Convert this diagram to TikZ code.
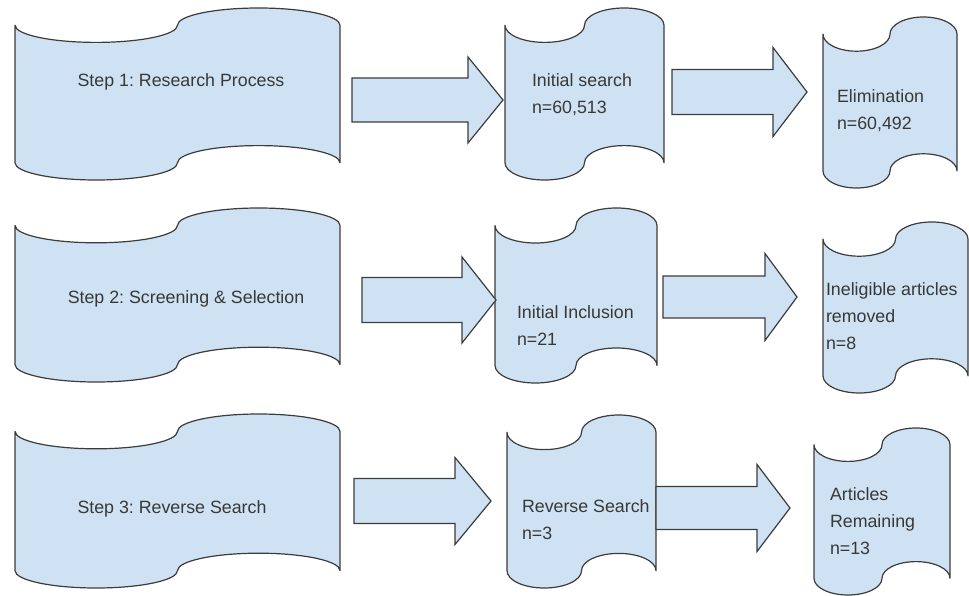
\documentclass[tikz,border=0pt]{standalone}
\usepackage{fontspec}
\setmainfont{Liberation Sans}
\frenchspacing
\definecolor{tapefill}{HTML}{CFE2F3}
\definecolor{tapeline}{HTML}{3C3C3C}
\definecolor{txtcol}{HTML}{383838}
\tikzset{
  tapebox/.style={fill=tapefill, draw=tapeline, line width=1.2pt, line join=round},
  blockarrow/.style={fill=tapefill, draw=tapeline, line width=1.2pt, line join=miter},
  lbl/.style={inner sep=0pt, outer sep=0pt, text=txtcol, font=\fontsize{17.8}{27}\selectfont},
}
% punched-tape shape: name, x1, y1, x2, y2 (y downwards)
\newcommand\tapeshape[5]{%
  \pgfmathsetmacro\tpW{#4-#2}%
  \pgfmathsetmacro\tpA{(#5-#3)/10}%
  \pgfmathsetmacro\tpR{\tpW/4}%
  \draw[tapebox] (#2,#3+\tpA)
    arc[start angle=180, end angle=0, x radius=\tpR, y radius=\tpA]
    arc[start angle=180, end angle=360, x radius=\tpR, y radius=\tpA]
    -- (#4,#5-\tpA)
    arc[start angle=0, end angle=-180, x radius=\tpR, y radius=\tpA]
    arc[start angle=0, end angle=180, x radius=\tpR, y radius=\tpA]
    -- cycle;
  \coordinate (#1) at ({(#2+#4)/2},{(#3+#5)/2});
}
% block arrow: name, x start, x head base, x tip, centre y, shaft half width, head half width
\newcommand\blockarr[7]{%
  \draw[blockarrow] (#2,#5-#6) -- (#3,#5-#6) -- (#3,#5-#7) -- (#4,#5)
    -- (#3,#5+#7) -- (#3,#5+#6) -- (#2,#5+#6) -- cycle;
  \coordinate (#1) at (#4,#5);
}
\newcommand\lines[1]{\begin{tabular}[t]{@{}l@{}}#1\end{tabular}}
\begin{document}
\begin{tikzpicture}[x=1pt, y=-1pt]
  \useasboundingbox (0,0) rectangle (969,596);
  % row 1
  \tapeshape{a1}{15}{8}{340}{180}
  \tapeshape{b1}{505}{8}{664}{180}
  \tapeshape{c1}{823}{17}{957}{188}
  % row 2
  \tapeshape{a2}{15}{208}{340}{382}
  \tapeshape{b2}{495}{208}{657}{383}
  \tapeshape{c2}{823}{222}{968}{393}
  % row 3
  \tapeshape{a3}{15}{414}{340}{588}
  \tapeshape{b3}{507}{415}{656}{588}
  \tapeshape{c3}{814}{428}{950}{595}
  % block arrows
  \blockarr{r1}{352}{468}{503}{100}{22}{43}
  \blockarr{r2}{672}{773}{807}{92}{22.5}{44.5}
  \blockarr{r3}{362}{462}{496}{300}{22.5}{43}
  \blockarr{r4}{663}{765}{797}{297}{21}{43.5}
  \blockarr{r5}{354}{455}{491}{501}{22.5}{43.5}
  \blockarr{r6}{656}{757}{790}{508}{21.5}{43.5}
  % labels
  \node[lbl, anchor=base] (a1t) at (181,87) {Step 1: Research Process};
  \node[lbl, anchor=base west] (b1t) at (532,87) {\lines{Initial search\\ n=60,513}};
  \node[lbl, anchor=base west] (c1t) at (837,103) {\lines{Elimination\\ n=60,492}};
  \node[lbl, anchor=base] (a2t) at (186,303) {Step 2: Screening \& Selection};
  \node[lbl, anchor=base west] (b2t) at (517,318) {\lines{Initial Inclusion\\ n=21}};
  \node[lbl, anchor=base west] (c2t) at (826,295) {\lines{Ineligible articles\\ removed\\ n=8}};
  \node[lbl, anchor=base] (a3t) at (172,513) {Step 3: Reverse Search};
  \node[lbl, anchor=base west] (b3t) at (522,512) {\lines{Reverse Search\\ n=3}};
  \node[lbl, anchor=base west] (c3t) at (830,500) {\lines{Articles\\ Remaining\\ n=13}};
\end{tikzpicture}
\end{document}
